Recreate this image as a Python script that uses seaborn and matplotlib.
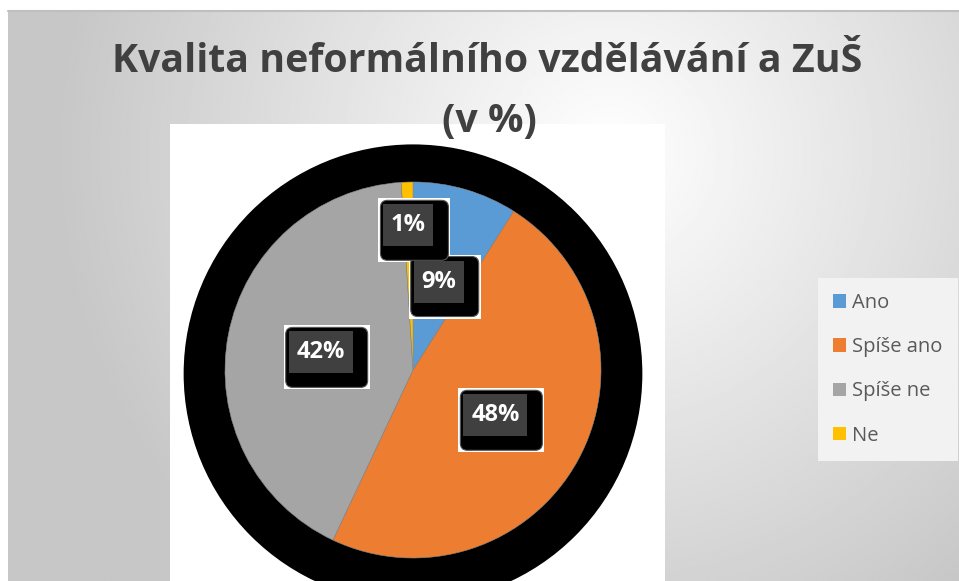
import numpy as np
import matplotlib
matplotlib.use('Agg')
import matplotlib.pyplot as plt
import seaborn as sns
from matplotlib.patches import Rectangle, FancyBboxPatch, Circle, Patch

# data
categories = ['Ano', 'Spíše ano', 'Spíše ne', 'Ne']
values = [9, 48, 42, 1]
pct_labels = ['9%', '48%', '42%', '1%']
colors = ['#5B9BD5', '#ED7D31', '#A5A5A5', '#FFC000']
title_line1 = 'Kvalita neformálního vzdělávání a ZuŠ'
title_line2 = '(v %)'

sns.set_theme(style='white')
plt.rcParams['font.family'] = ['Open Sans', 'DejaVu Sans']

W, H = 959, 581
fig = plt.figure(figsize=(W / 100, H / 100), dpi=100, facecolor='white')

# slide background with soft radial gradient
bg = fig.add_axes([8 / W, 0, 1 - 8 / W, 1 - 11 / H])
bg.set_zorder(-2)
yy, xx = np.mgrid[0:300, 0:500]
cx, cy = 0.63 * 500, 0.25 * 300
r = np.sqrt(((xx - cx) / 500) ** 2 + ((yy - cy) / 300 * 0.6) ** 2)
shade = np.clip(1 - r * 0.38, 0.78, 1.0)
bg.imshow(shade, cmap='gray', vmin=0, vmax=1, aspect='auto', interpolation='bilinear')
bg.axis('off')
fig.add_artist(plt.Line2D([8 / W, 1], [1 - 11 / H, 1 - 11 / H], color='#BFBFBF', lw=1.5))

# white chart area
fig.add_artist(Rectangle((170 / W, 0), (665 - 170) / W, (H - 124) / H,
                         transform=fig.transFigure, facecolor='white', edgecolor='none', zorder=-1))

# pie axes: 1 data unit = 188 px
R = 188
px = 1 / R
cxp, cyp = 413, H - 370
lim = 1.3
ax = fig.add_axes([(cxp - lim * R) / W, (cyp - lim * R) / H, 2 * lim * R / W, 2 * lim * R / H])
ax.set_zorder(1)
ax.patch.set_alpha(0)
# black halo behind the pie (rendering artefact in the original)
ax.add_patch(Circle((0, -0.02), 1.22, facecolor='black', edgecolor='none', zorder=0, clip_on=False))
wedges, _ = ax.pie(values, colors=colors, startangle=90, counterclock=False, radius=1,
                   wedgeprops=dict(linewidth=0.4, edgecolor='#8a8a8a'))
for w in wedges:
    w.set_zorder(1)
ax.set_xlim(-lim, lim)
ax.set_ylim(-lim, lim)
ax.axis('off')

# data labels
label_dist = [0.49, 0.50, 0.50, 0.77]
for w, lab, d in zip(wedges, pct_labels, label_dist):
    mid = np.deg2rad((w.theta1 + w.theta2) / 2)
    x, y = d * np.cos(mid), d * np.sin(mid)
    hw = (25 if len(lab) == 2 else 32) * px
    hh = 21 * px
    ax.add_patch(Rectangle((x - hw - 5 * px, y - hh - 16 * px), 2 * hw + 22 * px, 2 * hh + 22 * px,
                           facecolor='white', edgecolor='none', zorder=3, clip_on=False))
    ax.add_patch(FancyBboxPatch((x - hw - 3 * px, y - hh - 14 * px), 2 * hw + 18 * px, 2 * hh + 18 * px,
                                boxstyle='round,pad=0,rounding_size=%f' % (7 * px),
                                facecolor='black', edgecolor='#555555', lw=0.8, zorder=4, clip_on=False))
    ax.add_patch(Rectangle((x - hw, y - hh), 2 * hw, 2 * hh,
                           facecolor='#404040', edgecolor='none', zorder=5, clip_on=False))
    ax.text(x, y, lab, ha='center', va='center', color='white', fontsize=17,
            fontweight='bold', zorder=6)

# title
fig.text(487 / W, 1 - 62 / H, title_line1, ha='center', va='center', fontsize=28.3,
         fontweight='bold', color='#404040')
fig.text(489 / W, 1 - 121 / H, title_line2, ha='center', va='center', fontsize=28.3,
         fontweight='bold', color='#404040')

# legend
handles = [Patch(facecolor=c, edgecolor='none', label=l) for c, l in zip(colors, categories)]
leg = fig.legend(handles=handles, loc='upper left', bbox_to_anchor=(818 / W, 1 - 278 / H),
                 frameon=True, fancybox=False, fontsize=14.5, handlelength=0.65, handleheight=0.65,
                 handletextpad=0.3, labelspacing=1.2, borderpad=0.75, borderaxespad=0)
leg.get_frame().set_facecolor('#F2F2F2')
leg.get_frame().set_edgecolor('none')
leg.get_frame().set_alpha(1)
for t in leg.get_texts():
    t.set_color('#595959')

plt.savefig('out.png', dpi=100)
plt.close()
